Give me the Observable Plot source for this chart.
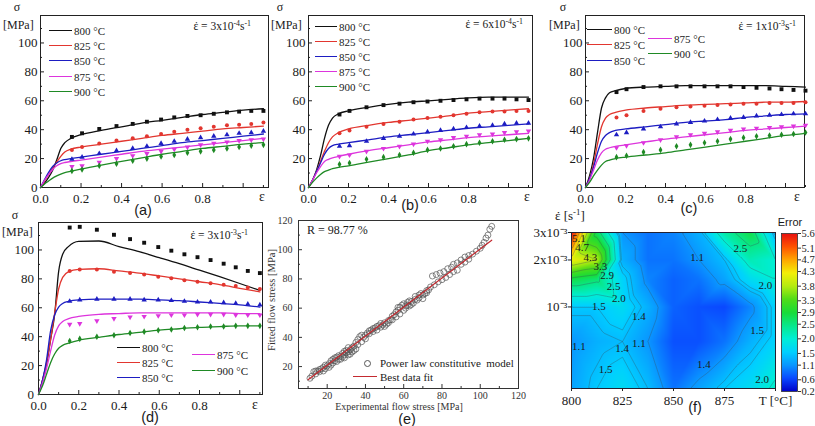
<!DOCTYPE html>
<html>
<head>
<meta charset="utf-8">
<script src="https://cdn.jsdelivr.net/npm/d3@7"></script>
<script src="https://cdn.jsdelivr.net/npm/@observablehq/plot@0.6"></script>
<style>
  html, body { margin: 0; padding: 0; background: #fff; }
  #fig { position: relative; width: 815px; height: 426px; overflow: hidden; background: #fff;
         font-family: "Liberation Serif", "Times New Roman", serif; color: #1a1a1a; }
  .pn { position: absolute; }
  .lbl { position: absolute; white-space: nowrap; line-height: 1; }
  .lbl sup { font-size: 0.68em; vertical-align: 0.55em; line-height: 0; }
  .sans { font-family: "Liberation Sans", Arial, sans-serif; }
  .key { position: absolute; height: 0; }
  .ed { position: relative; display: inline-block; }
  .ed .dt { position: absolute; left: 0.1em; top: 0.02em; line-height: 1; }
</style>
</head>
<body>
<div id="fig"></div>
<script>
// ---------- stress–strain data (σ in MPa) ----------
const temps = ["800 °C", "825 °C", "850 °C", "875 °C", "900 °C"];
const tempColors = ["#111111", "#e2362f", "#1d1dc2", "#dd35dd", "#1f8a25"];
const tempSymbols = ["square", "circle", "triangle", "triangle", "diamond"];
const tempRotate = [0, 0, 0, 180, 0];

// strain values of the model curves
const strainGrid = [0, 0.02, 0.04, 0.06, 0.08, 0.1, 0.12, 0.15, 0.2, 0.3, 0.4, 0.5, 0.6, 0.7, 0.8, 0.9, 1.0, 1.1];
// strain values of the experimental points
const markerStrain = [0.155, 0.205, 0.29, 0.375, 0.455, 0.525, 0.595, 0.66, 0.725, 0.79, 0.855, 0.92, 0.98, 1.04, 1.1];

const xTicks = [0, 0.2, 0.4, 0.6, 0.8, 1.0];
const xTickLabels = ["0.0", "0.2", "0.4", "0.6", "0.8", ""];
const xMinorTicks = [0.1, 0.3, 0.5, 0.7, 0.9, 1.1];
const yTicks = [0, 20, 40, 60, 80, 100];
const yMinorTicks = [10, 30, 50, 70, 90, 110];

// (a) 3x10^-4 s^-1
const modelA = [
  [0, 3, 7, 12, 19, 27, 31, 34, 36.5, 39.5, 42, 44.5, 46.5, 48.5, 50.5, 52, 53.5, 54.5],
  [0, 4.5, 9, 13.5, 17.5, 21.5, 24.5, 26.5, 28, 30, 32, 34, 36, 37.5, 39, 40.5, 41.5, 42.5],
  [0, 5.5, 10.5, 14.5, 17, 18.5, 19.3, 20, 21, 23, 25, 27, 29, 31, 32.5, 34, 35.5, 37],
  [0, 5, 9, 12.5, 15, 16.5, 17.3, 18, 19, 21, 23, 25, 26.5, 28, 29.5, 31, 32.5, 34],
  [0, 2.5, 4.5, 6.5, 8, 9.3, 10.3, 11.3, 12.8, 15.5, 18, 20.5, 23, 25, 27, 28.5, 30, 31]
];
const expA = [
  [35, 37.5, 40.5, 42.5, 44, 45.5, 47, 48.5, 49.5, 50, 51, 52, 52.5, 53, 53],
  [26, 28, 30.5, 32.5, 34, 35.5, 37, 38.5, 40, 41, 42, 43, 43.5, 44, 45],
  [19.5, 21, 23.5, 25.5, 27, 28.5, 30.5, 32, 33.5, 34.5, 35.5, 36.5, 37.5, 38, 39],
  [14.5, 15, 17.5, 20, 22, 23.5, 25, 26.5, 28, 29.5, 30.5, 31.5, 32.5, 33, 33.5],
  [11.5, 12.5, 15, 16.5, 18.5, 20, 21.5, 22.5, 24, 25, 26, 27, 28, 29, 29.5]
];
// (b) 6x10^-4 s^-1
const modelB = [
  [0, 5, 12, 22, 34, 43, 48, 51, 53, 55.5, 57.5, 59, 60, 61, 62, 62.5, 62.5, 62.5],
  [0, 5, 11, 18, 25, 31, 35, 38, 40.5, 43, 45, 46.5, 48, 49.5, 51.5, 52.5, 53.5, 54.5],
  [0, 5, 11, 17, 23, 27, 29, 30, 31, 33, 35, 36.5, 38, 39.5, 41, 42, 43, 44],
  [0, 5, 10, 14.5, 18, 19.5, 20.5, 21.5, 23, 25.5, 27.5, 29.5, 31.5, 33, 34.5, 35.5, 36.5, 37.5],
  [0, 3.5, 6.5, 9, 11, 12, 13, 14, 15, 17.5, 20, 22.5, 25.5, 27.5, 29.5, 31, 32.5, 34]
];
const expB = [
  [50.5, 53, 55.5, 57, 58, 59, 59.5, 60, 60.5, 61, 61.5, 61.5, 61.5, 61, 60.5],
  [37.5, 39.5, 42, 44, 45.5, 47, 48, 49, 50, 51, 52, 52.5, 52.5, 53, 53],
  [28.5, 29, 32, 34, 35.5, 37, 38.5, 39.5, 40.5, 41.5, 42.5, 43, 44, 44.5, 44.5],
  [21.5, 22.5, 25, 27, 28.5, 30, 32, 33, 34.5, 35.5, 36.5, 37, 38, 38.5, 39],
  [16, 17, 19.5, 21, 22.5, 24, 26, 27, 28.5, 30, 31, 32, 33, 33.5, 34]
];
// (c) 1x10^-3 s^-1
const modelC = [
  [0, 8, 20, 38, 55, 62, 65.5, 67, 68.5, 69.5, 70, 70.5, 70.5, 70.5, 70.5, 70.5, 70, 69.5],
  [0, 6, 16, 30, 42, 48, 50.5, 52, 53.5, 55, 56, 57, 57.5, 58, 58.5, 59, 59, 59.5],
  [0, 6, 14, 24, 32, 36, 38, 39.5, 40.5, 42, 43.5, 45, 46, 47, 48.5, 49.5, 50.5, 51],
  [0, 5, 12, 19, 24, 26.5, 27.5, 28.5, 29.5, 31.5, 33.5, 35, 36.5, 38, 39.5, 40.5, 41.5, 42.5],
  [0, 3.5, 8, 12, 15.5, 18, 19, 20, 21, 22.5, 24, 26, 28, 30, 32, 34, 36, 37.5]
];
const expC = [
  [66, 68, 69.5, 70, 70, 70, 70, 70, 70, 69.5, 69, 68.5, 68, 67.5, 67],
  [48.5, 50, 53, 54.5, 55.5, 56, 56.5, 57, 57.5, 58, 58, 58.5, 58.5, 58.5, 59],
  [36.5, 38, 40.5, 42, 44, 45, 46, 47, 48, 48.5, 49.5, 50, 50.5, 51, 51],
  [27.5, 29, 31, 33, 35, 36.5, 37.5, 38.5, 39.5, 40.5, 41, 41.5, 42, 42.5, 43],
  [21, 22, 24.5, 26, 28.5, 29.5, 31, 32, 33.5, 34.5, 35.5, 36, 36.5, 37, 38]
];
// (d) 3x10^-3 s^-1
const modelD = [
  [0, 10, 21, 38, 55, 85, 97, 102.5, 106, 106.2, 102.3, 98.8, 94.7, 90.5, 86, 81.5, 76.8, 72],
  [0, 10, 22, 38, 56, 73, 81, 85, 86.5, 87, 85.5, 84, 82, 80, 78, 76, 73.5, 71],
  [0, 10, 24, 44, 55, 60.5, 63, 64.5, 65.5, 66, 66, 66, 65.5, 65, 64, 63, 62, 60.5],
  [0, 8, 18, 30, 41, 47.5, 50.5, 52.5, 54, 55.5, 56, 56.5, 56.5, 56.5, 56.5, 56.5, 56, 56],
  [0, 6, 14, 22, 28, 32, 34, 35.5, 37.5, 39.5, 41.5, 43, 44.5, 45.5, 46.5, 47, 47.5, 47.5]
];
const expD = [
  [115.5, 116, 114, 110.5, 107.5, 105, 102, 99.5, 97, 95, 93, 90.5, 88, 85.5, 84],
  [85.5, 86.5, 86.5, 85, 84, 83, 81.5, 80.5, 79, 78, 77, 76, 75, 74, 73],
  [64.5, 65.5, 66, 66, 66, 65.5, 65.5, 65, 64.5, 64, 64, 63.5, 63, 62.5, 62],
  [48.5, 49, 51, 52.5, 53.5, 54, 54.5, 55, 55, 55.5, 55.5, 55.5, 55, 55, 55],
  [37, 38.5, 40, 41, 42.5, 43.5, 44.5, 45, 46, 46.5, 47, 47, 47.5, 47.5, 47.5]
];

// ---------- (e) experimental vs fitted flow stress (MPa) ----------
const expStress = [11, 12, 13, 14, 15, 16, 17, 18, 19, 20, 21, 22, 23, 24, 25, 26, 27, 28, 29, 30,
  22, 24, 26, 28, 30, 31, 32, 33, 34, 35, 36, 37, 38, 39, 40, 41, 42, 43, 44, 45,
  46, 47, 48, 49, 50, 51, 52, 53, 54, 55, 56, 57, 58, 59, 60, 61, 62, 63, 64, 65,
  66, 68, 69, 70, 71, 72, 74, 75, 77, 79, 81, 83, 85, 86, 88, 90, 92, 94, 96, 98,
  100, 101, 102, 103, 104, 105, 106, 29, 31, 33, 35, 78, 80, 82, 84, 86, 88,
  14, 16, 18, 19, 21, 23, 25, 27, 29, 31, 32, 34, 36, 38, 40, 42, 44, 46, 48, 50,
  52, 54, 56, 57, 58, 60, 61, 62, 63, 64, 66, 67, 68, 70, 72, 73, 76, 90, 92, 94];
const fitStress = [12, 13.5, 16.5, 15, 17, 16.5, 18.5, 19.5, 18.5, 20.5, 22, 21, 22.5, 24, 23.5, 25, 27, 26.5, 28, 29.5,
  24, 26, 27.5, 29, 31, 30, 31.5, 33, 34, 36.5, 38.5, 40.5, 41.5, 40, 41.5, 43, 42.5, 45, 44, 46.5,
  47.5, 48, 47, 48.5, 47.5, 49, 50, 52, 54.5, 55.5, 57.5, 58.5, 60.5, 62, 63, 61.5, 64, 65, 64.5, 63.5,
  66, 67, 70, 69, 70, 72, 74.5, 82, 83, 84, 85, 87, 88, 90, 91, 93, 95, 96, 97, 99,
  101, 103, 105, 108, 110, 114, 116, 26, 28, 30, 32, 78, 79.5, 81, 83, 85, 86,
  17, 18, 17, 21, 19.5, 25, 26.5, 25, 30.5, 33, 28.5, 31, 35, 37, 39, 44.5, 46, 45, 49.5, 50,
  51.5, 52, 54, 60.5, 56, 58.5, 60, 62, 61.5, 62.5, 68, 65.5, 69, 66.5, 70.5, 72.5, 76, 90, 91.5, 93.5];
const fitLineX = [10, 106];
const fitLineY = [11, 106.5];
const eTicks = [20, 40, 60, 80, 100, 120];
const eMinorTicks = [10, 30, 50, 70, 90, 110];

// ---------- (f) error map ----------
const mapTemps = [800, 812.5, 825, 837.5, 850, 862.5, 875, 887.5, 900];
const mapRates = [3e-4, 6e-4, 1e-3, 1.5e-3, 2e-3, 3e-3];
const errorGrid = [            // rows follow mapRates, columns follow mapTemps
  [1.2, 1.5, 1.7, 1.4, 0.9, 1.2, 1.5, 1.7, 2.1],
  [1.1, 1.3, 1.4, 1.1, 0.7, 0.7, 0.9, 1.3, 1.6],
  [1.5, 1.5, 1.7, 1.3, 0.8, 0.7, 0.65, 1.0, 1.6],
  [2.8, 2.6, 1.6, 1.0, 0.8, 0.9, 1.2, 1.7, 2.0],
  [4.2, 3.8, 1.3, 0.9, 0.9, 1.1, 1.4, 2.2, 2.0],
  [5.6, 2.7, 1.1, 0.9, 1.0, 1.3, 2.3, 2.8, 1.3]
];
const contourLevels = [1.1, 1.4, 1.5, 2.0, 2.5, 2.9, 3.3, 3.8, 4.3, 4.7, 5.1];
const contourLabelT =    [803.6, 805.2, 809.3, 814.2, 817.5, 820.7, 823.2, 813.4, 833, 861.6, 882.8, 895, 891, 803.6, 824.8, 833, 864.9, 816.7, 893.5];
const contourLabelRate = [2.74e-3, 2.42e-3, 2.09e-3, 1.81e-3, 1.58e-3, 1.35e-3, 1.14e-3, 1.0e-3, 8.67e-4, 2.09e-3, 2.36e-3, 1.38e-3, 7.1e-4, 5.6e-4, 5.45e-4, 5.87e-4, 4.27e-4, 3.97e-4, 3.43e-4];
const contourLabelText = ["5.1", "4.7", "4.3", "3.3", "2.9", "2.5", "2.0", "1.5", "1.4", "1.1", "2.5", "2.0", "1.5", "1.1", "1.4", "1.1", "1.4", "1.5", "2.0"];
const mapXTicks = [800, 825, 850, 875, 900];
const mapXTickLabels = ["800", "825", "850", "875", "T [°C]"];
const mapYTicks = [1e-3, 2e-3, 3e-3];
const mapYTickLabels = ["10⁻³", "2x10⁻³", "3x10⁻³"];
const errorTicks = [0.2, 0.6, 1.1, 1.5, 2.0, 2.5, 2.9, 3.3, 3.8, 4.3, 4.7, 5.1, 5.6];
const errorTickLabels = ["0.2", "0.6", "1.1", "1.5", "2.0", "2.5", "2.9", "3.3", "3.8", "4.3", "4.7", "5.1", "5.6"];

// jet-like colour ramp of the error scale
const errorColorDomain = [0.2, 0.65, 1.1, 1.55, 2.0, 2.45, 2.9, 3.35, 3.8, 4.25, 4.7, 5.15, 5.6];
const errorColorRange = ["#0000c8", "#0a48ff", "#0a96ff", "#00d0ff", "#00eed6", "#08e88c", "#18dc38", "#50dc18",
                         "#b4ec10", "#f4ee08", "#ffa600", "#ff5200", "#e81010"];

// ---------- helpers ----------
const fig = document.getElementById("fig");

function mount(svg, left, top, w) {
  const d = document.createElement("div");
  d.className = "pn";
  d.style.left = left + "px";
  d.style.top = top + "px";
  d.style.width = w + "px";
  d.appendChild(svg);
  fig.appendChild(d);
}

function text(html, x, y, {size = 12, anchor = "start", rotate = 0, cls = "", color = "#1a1a1a"} = {}) {
  const d = document.createElement("div");
  d.className = "lbl " + cls;
  d.innerHTML = html;
  d.style.fontSize = size + "px";
  d.style.color = color;
  d.style.left = x + "px";
  d.style.top = y + "px";
  const tx = anchor === "middle" ? "-50%" : anchor === "end" ? "-100%" : "0";
  d.style.transform = `translate(${tx},-50%)` + (rotate ? ` rotate(${rotate}deg)` : "");
  fig.appendChild(d);
}

function keyLine(x1, x2, y, color, w = 1.5) {
  const d = document.createElement("div");
  d.className = "key";
  d.style.left = x1 + "px";
  d.style.top = (y - w / 2) + "px";
  d.style.width = (x2 - x1) + "px";
  d.style.borderTop = `${w}px solid ${color}`;
  fig.appendChild(d);
}

// ε with a dot above (strain rate)
const epsDot = '<span class="ed">ε<span class="dt">˙</span></span>';

const baseStyle = {fontFamily: "'Liberation Serif', 'Times New Roman', serif", fontSize: "13px", color: "#1a1a1a",
                   background: "transparent", overflow: "visible"};

// ---------- σ–ε panels ----------
function strainPanel(model, exp, {w, h, mt, mr, mb, ml, xMax, yPad = 7}) {
  const marks = [Plot.frame({stroke: "#222", strokeWidth: 1})];
  const xLab = new Map(xTicks.map((t, i) => [t, xTickLabels[i]]));
  marks.push(
    Plot.axisX(xTicks, {tickSize: -4, tickPadding: 10, tickFormat: d => xLab.get(d), stroke: "#222", fill: "#1a1a1a", fontSize: 13}),
    Plot.axisX(xMinorTicks, {tickSize: -2, tickFormat: () => "", stroke: "#222"}),
    Plot.axisY(yTicks, {tickSize: -4, tickPadding: yPad, stroke: "#222", fill: "#1a1a1a", fontSize: 13}),
    Plot.axisY(yMinorTicks, {tickSize: -2, tickFormat: () => "", stroke: "#222"})
  );
  model.forEach((vals, k) => {
    const pts = vals.map((v, i) => ({s: strainGrid[i], v}));
    marks.push(Plot.line(pts, {x: "s", y: "v", stroke: tempColors[k], strokeWidth: 1.3, curve: "monotone-x"}));
  });
  exp.forEach((vals, k) => {
    const pts = vals.map((v, i) => ({s: markerStrain[i], v}));
    marks.push(Plot.dot(pts, {x: "s", y: "v", symbol: tempSymbols[k], fill: tempColors[k], stroke: "none",
                              r: k === 0 ? 2.2 : 2.0, rotate: tempRotate[k]}));
  });
  return Plot.plot({
    width: w, height: h, marginTop: mt, marginRight: mr, marginBottom: mb, marginLeft: ml,
    x: {domain: [0, xMax], label: null},
    y: {domain: [0, 119], label: null},
    style: baseStyle,
    marks
  });
}

mount(strainPanel(modelA, expA, {w: 272, h: 215, mt: 15, mr: 4, mb: 28, ml: 40, xMax: 1.125}), 0, 0, 272);
mount(strainPanel(modelB, expB, {w: 264, h: 215, mt: 15, mr: 4, mb: 28, ml: 36, xMax: 1.12}), 272, 0, 264);
mount(strainPanel(modelC, expC, {w: 279, h: 215, mt: 15, mr: 11, mb: 28, ml: 49, xMax: 1.095}), 536, 0, 279);
mount(strainPanel(modelD, expD, {w: 270, h: 221, mt: 17, mr: 8, mb: 32, ml: 38, xMax: 1.113, yPad: 8.5}), 0, 205, 270);

// axis names, rates, panel letters
const sigmaPos = [[17, 7, 3, 25], [280, 7, 271, 25], [563, 7, 549, 25], [15, 215, 2, 232]];
sigmaPos.forEach(([sx, sy, mx, my]) => {
  text("σ", sx, sy, {size: 12, anchor: "middle"});
  text("[MPa]", mx, my, {size: 12});
});
[[262, 197], [527, 197], [797, 197], [255, 405]].forEach(([x, y]) => text("ε", x, y, {size: 14, anchor: "middle"}));
const rateNotes = [
  [epsDot + " = 3x10<sup>-4</sup>s<sup>-1</sup>", 251, 27],
  [epsDot + " = 6x10<sup>-4</sup>s<sup>-1</sup>", 523, 25],
  [epsDot + " = 1x10<sup>-3</sup>s<sup>-1</sup>", 796, 27],
  [epsDot + " = 3x10<sup>-3</sup>s<sup>-1</sup>", 248, 236]
];
rateNotes.forEach(([t, x, y]) => text(t, x, y, {size: 11.5, anchor: "end"}));
[["(a)", 143, 210], ["(b)", 410, 205], ["(c)", 689, 208], ["(d)", 150, 417], ["(e)", 407, 419], ["(f)", 695, 407]]
  .forEach(([t, x, y]) => text(t, x, y, {size: 14.5, anchor: "middle", cls: "sans"}));

// legends of the σ–ε panels
function legendEntry(k, x1, x2, y) {
  keyLine(x1, x2, y, tempColors[k]);
  text(temps[k], x2 + 2, y, {size: 11});
}
[31, 46, 61, 77, 92].forEach((y, k) => legendEntry(k, 49, 72, y));
[27, 42, 57, 72, 87].forEach((y, k) => legendEntry(k, 315, 337, y));
legendEntry(0, 587, 612, 30); legendEntry(1, 587, 612, 45); legendEntry(2, 587, 612, 61);
legendEntry(3, 648, 672, 39); legendEntry(4, 648, 672, 54);
legendEntry(0, 117, 140, 348); legendEntry(1, 117, 140, 363); legendEntry(2, 117, 140, 378);
legendEntry(3, 192, 215, 355); legendEntry(4, 192, 215, 371);

// ---------- (e) ----------
{
  const pts = expStress.map((x, i) => ({x, y: fitStress[i]}));
  const fitLine = fitLineX.map((x, i) => ({x, y: fitLineY[i]}));
  const svg = Plot.plot({
    width: 265, height: 221, marginTop: 15, marginRight: 17, marginBottom: 38, marginLeft: 28,
    x: {domain: [5, 120], label: null},
    y: {domain: [5, 120], label: null},
    style: baseStyle,
    marks: [
      Plot.frame({stroke: "#333", strokeWidth: 1}),
      Plot.axisX(eTicks, {tickSize: -4, tickPadding: 7, fontSize: 10, fill: "#333", stroke: "#333"}),
      Plot.axisX(eMinorTicks, {tickSize: -2, tickFormat: () => "", stroke: "#333"}),
      Plot.axisY(eTicks, {tickSize: -4, tickPadding: 10, fontSize: 10, fill: "#333", stroke: "#333"}),
      Plot.axisY(eMinorTicks, {tickSize: -2, tickFormat: () => "", stroke: "#333"}),
      Plot.dot(pts, {x: "x", y: "y", r: 3, stroke: "#555", strokeWidth: 0.7, fill: "none"}),
      Plot.line(fitLine, {x: "x", y: "y", stroke: "#c42a30", strokeWidth: 1.2})
    ]
  });
  mount(svg, 270, 205, 265);
  text("R = 98.77 %", 307, 230, {size: 12});
  text("Fitted flow stress [MPa]", 272, 300, {size: 10.5, anchor: "middle", rotate: -90, color: "#333"});
  text("Experimental flow stress [MPa]", 399, 406.5, {size: 10, anchor: "middle", color: "#333"});
  // legend
  const c = document.createElement("div");
  c.className = "key";
  c.style.cssText += "left:364px;top:360px;width:5px;height:5px;border:0.8px solid #555;border-radius:50%;";
  fig.appendChild(c);
  text("Power law constitutive&nbsp; model", 380, 363, {size: 11});
  keyLine(353, 377, 377, "#c42a30", 1.2);
  text("Best data fit", 380, 377, {size: 11});
}

// ---------- (f) ----------
{
  const pts = [];
  mapRates.forEach((rate, r) => mapTemps.forEach((T, t) => pts.push({T, rate, err: errorGrid[r][t]})));
  const labels = contourLabelText.map((s, i) => ({T: contourLabelT[i], rate: contourLabelRate[i], s}));
  const xLab = new Map(mapXTicks.map((t, i) => [t, mapXTickLabels[i]]));
  const yLab = new Map(mapYTicks.map((t, i) => [t, mapYTickLabels[i]]));
  const color = {type: "linear", domain: errorColorDomain, range: errorColorRange, clamp: true};
  const svg = Plot.plot({
    width: 252, height: 221, marginTop: 27, marginRight: 5, marginBottom: 38, marginLeft: 43,
    x: {domain: [800, 900], label: null},
    y: {type: "log", domain: [3e-4, 3e-3], label: null},
    color,
    style: baseStyle,
    marks: [
      Plot.raster(pts, {x: "T", y: "rate", fill: "err", interpolate: "barycentric"}),
      Plot.contour(pts, {x: "T", y: "rate", value: "err", interpolate: "barycentric", thresholds: contourLevels,
                         fill: "none", stroke: "#3a4a5a", strokeWidth: 0.5, strokeOpacity: 0.7}),
      Plot.text(labels, {x: "T", y: "rate", text: "s", fontSize: 11, fill: "#1a1a1a"}),
      Plot.frame({stroke: "#223", strokeWidth: 1}),
      Plot.axisX(mapXTicks, {tickSize: 3, tickPadding: 4, tickFormat: d => xLab.get(d), fontSize: 13, fill: "#1a1a1a", stroke: "#222"}),
      Plot.axisY(mapYTicks, {tickSize: 3, tickPadding: 1, tickFormat: d => yLab.get(d), fontSize: 13, fill: "#1a1a1a", stroke: "#222"})
    ]
  });
  mount(svg, 528, 205, 252);
  text(epsDot + " [s<sup>-1</sup>]", 555, 215, {size: 13});

  // colour bar
  const bar = Plot.plot({
    width: 35, height: 221, marginTop: 28, marginRight: 19, marginBottom: 35, marginLeft: 0,
    x: {domain: [0, 1], axis: null},
    y: {domain: [0.2, 5.6], label: null},
    color,
    style: baseStyle,
    marks: [
      Plot.raster({fill: (x, y) => y, x1: 0, x2: 1, y1: 0.2, y2: 5.6}),
      Plot.frame({stroke: "#333", strokeWidth: 0.8}),
      Plot.axisY(errorTicks, {anchor: "right", tickSize: 3, tickPadding: 1,
                              tickFormat: d => errorTickLabels[errorTicks.indexOf(d)],
                              fontSize: 10.5, fill: "#1a1a1a", stroke: "#333"})
    ]
  });
  mount(bar, 781, 205, 35);
  text("Error", 790, 222, {size: 11, anchor: "middle", cls: "sans"});
}
</script>
</body>
</html>
